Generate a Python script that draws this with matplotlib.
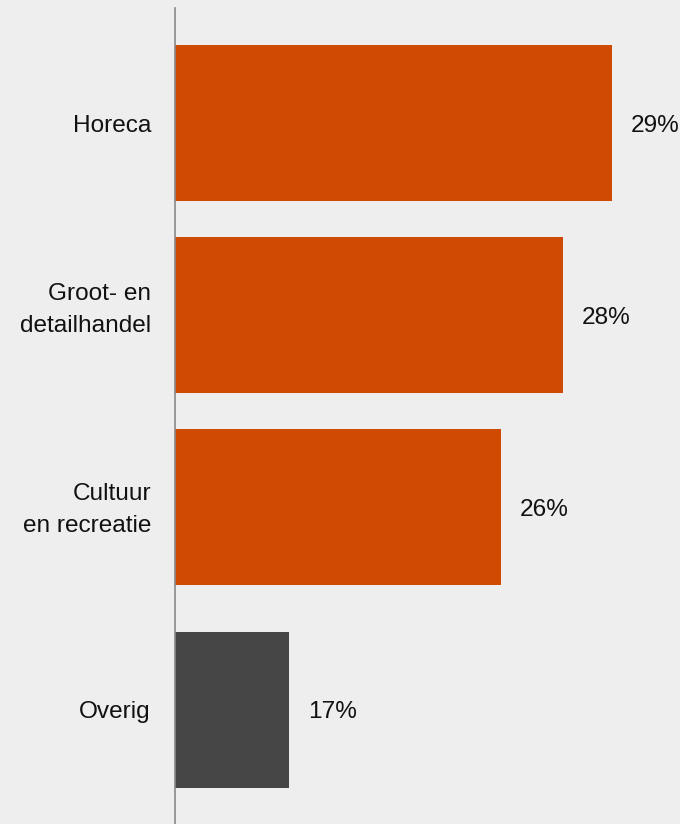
import matplotlib.pyplot as plt
import matplotlib.transforms as mtransforms

# data
categories = ['Horeca', 'Groot- en\ndetailhandel', 'Cultuur\nen recreatie', 'Overig']
value_labels = ['29%', '28%', '26%', '17%']
# bar lengths as drawn (arbitrary units)
bar_lengths = [43.7, 38.8, 32.6, 11.4]
bar_colors = ['#d04a02', '#d04a02', '#d04a02', '#464646']

bg = '#eeeeee'
plt.rcParams['font.family'] = ['Liberation Sans', 'DejaVu Sans']

fig = plt.figure(figsize=(6.8, 8.24), dpi=100, facecolor=bg)
ax = fig.add_axes([175 / 680, 0, 505 / 680, 816 / 824])
ax.set_facecolor(bg)

# the last bar sits a bit further from the others
group_gap = 0.057
ypos = [i + (group_gap if i == len(categories) - 1 else 0) for i in range(len(categories))]

ax.barh(ypos, bar_lengths, height=0.8125, color=bar_colors, zorder=2)

for y, w, lab in zip(ypos, bar_lengths, value_labels):
    ax.annotate(lab, xy=(w, y), xytext=(19 * 0.72, 0), textcoords='offset points',
                ha='left', va='center_baseline', fontsize=17.6, color='#111111')

ax.set_xlim(0, 50.5)
ax.set_ylim(ypos[-1] + 0.594, -0.599)

ax.set_yticks(ypos)
ax.set_yticklabels(categories, fontsize=17.6, color='#111111', linespacing=1.6)
ax.tick_params(axis='y', length=0, pad=17.3)
ax.set_xticks([])

# the two-line labels sit a little higher than their bar centres in the original
shifts = {1: 0.13, 2: 0.05}
for i, dy in shifts.items():
    lbl = ax.get_yticklabels()[i]
    lbl.set_transform(lbl.get_transform() + mtransforms.ScaledTranslation(0, dy, fig.dpi_scale_trans))

for side in ['top', 'right', 'bottom']:
    ax.spines[side].set_visible(False)
ax.spines['left'].set_color('#888888')
ax.spines['left'].set_linewidth(1.2)

fig.savefig('out.png', dpi=100, facecolor=bg)
